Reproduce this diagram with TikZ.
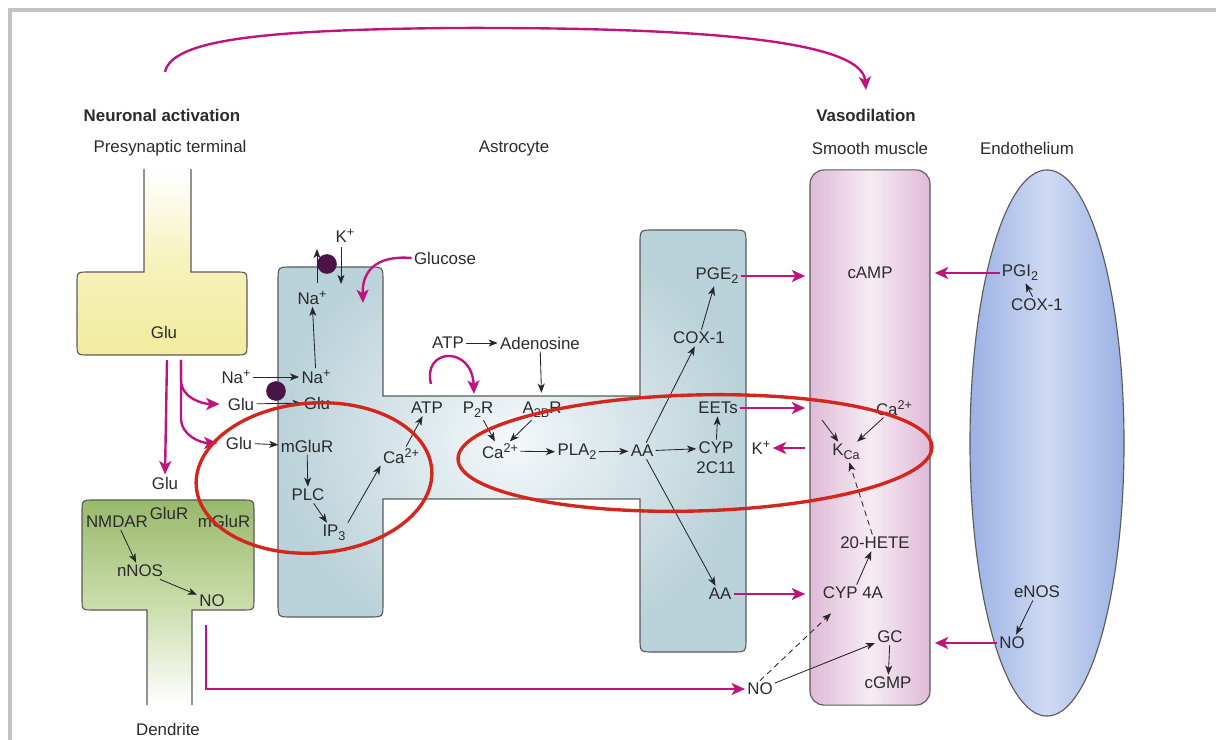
\documentclass[tikz,border=0pt]{standalone}
\usepackage{fontspec}
\setmainfont{Liberation Sans}
\usetikzlibrary{arrows.meta,shapes.geometric,calc}
\definecolor{mag}{HTML}{C0147C}
\definecolor{redc}{HTML}{D3261C}
\definecolor{outl}{HTML}{5A5A5A}
\definecolor{txt}{HTML}{2B2B2B}
\definecolor{pumpc}{HTML}{4A1448}
\definecolor{framec}{HTML}{C3C3C3}
\definecolor{astroout}{HTML}{BAD2D9}
\definecolor{astroin}{HTML}{F4F8FA}
\definecolor{yel}{HTML}{F1EC9E}
\definecolor{yelL}{HTML}{F6F2BC}
\definecolor{grn}{HTML}{98B96C}
\definecolor{grnL}{HTML}{CADCAA}
\definecolor{pinkE}{HTML}{E0BAD7}
\definecolor{pinkM}{HTML}{F6ECF3}
\definecolor{bluE}{HTML}{9AB1E3}
\definecolor{bluM}{HTML}{CFDAF3}
\newcommand\upx[1]{\raisebox{0.6ex}{\fontsize{9}{9}\selectfont #1}}
\newcommand\dnx[1]{\raisebox{-0.45ex}{\fontsize{9}{9}\selectfont #1}}
\begin{document}
\begin{tikzpicture}[x=0.025cm, y=-0.025cm, font=\fontsize{12}{14}\selectfont,
  every node/.style={text=txt, inner sep=1.5pt},
  arr/.style={-{Stealth[length=6.5pt,width=5pt,inset=1.8pt]}, line width=0.6pt, draw=black!85},
  darr/.style={arr, dash pattern=on 4pt off 3pt},
  marr/.style={-{Stealth[length=9.5pt,width=8.5pt,inset=2.5pt]}, line width=1.7pt, draw=mag},
  memb/.style={draw=outl, line width=0.8pt},
  redring/.style={draw=redc, line width=2.4pt},
  pump/.style={circle, fill=pumpc, minimum size=14pt, inner sep=0pt}]
\useasboundingbox (0,0) rectangle (1216,740);
% frame
\fill[framec] (8,8) rectangle (1216,12);
\fill[framec] (8,8) rectangle (12,740);

% titles
\node (nact) at (162,115) {\bfseries Neuronal activation};
\node (pre) at (170,148) {Presynaptic terminal};
\node (astro) at (514,148) {Astrocyte};
\node (vaso) at (866,115) {\bfseries Vasodilation};
\node (smooth) at (870,148) {Smooth muscle};
\node (endoL) at (1027,148) {Endothelium};
\node (dend) at (168,729) {Dendrite};

% top arrow
\coordinate (topA) at (165,72);
\coordinate (topB) at (866,90);
\draw[marr] (topA) .. controls (172,40) and (260,30) .. (450,28) .. controls (700,27) and (862,40) .. (topB);

% presynaptic terminal
\shadedraw[memb, top color=white, bottom color=yel, middle color=yelL]
  (144,169) -- (144,272) -- (89,272) .. controls (77,272) .. (77,284) -- (77,343)
  .. controls (77,355) .. (89,355) -- (235,355) .. controls (247,355) .. (247,343)
  -- (247,284) .. controls (247,272) .. (235,272) -- (191,272) -- (191,169);

% dendrite
\shadedraw[memb, top color=grn, bottom color=white, middle color=grnL]
  (147,705) -- (147,610) -- (94,610) .. controls (82,610) .. (82,598) -- (82,512)
  .. controls (82,500) .. (94,500) -- (242,500) .. controls (254,500) .. (254,512)
  -- (254,598) .. controls (254,610) .. (242,610) -- (192,610) -- (192,705);

% astrocyte
\shadedraw[memb, inner color=astroin, outer color=astroout]
  (278,281) .. controls (278,267) .. (292,267) -- (369,267) .. controls (383,267) .. (383,281)
  -- (383,396) -- (640,396) -- (640,244) .. controls (640,230) .. (654,230) -- (732,230)
  .. controls (746,230) .. (746,244) -- (746,638) .. controls (746,652) .. (732,652)
  -- (654,652) .. controls (640,652) .. (640,638) -- (640,499) -- (383,499) -- (383,603)
  .. controls (383,617) .. (369,617) -- (292,617) .. controls (278,617) .. (278,603) -- cycle;

% smooth muscle and endothelium
\node[memb, rectangle, rounded corners=10pt, minimum width=3cm, minimum height=13.375cm,
  shade, left color=pinkE, right color=pinkE, middle color=pinkM, inner sep=0pt] (sm) at (870,437.5) {};
\node[memb, ellipse, minimum width=3.85cm, minimum height=13.65cm,
  shade, left color=bluE, right color=bluE, middle color=bluM, inner sep=0pt] (endo) at (1047,443) {};

% pumps
\node[pump] (pump1) at (327,264) {};
\node[pump] (pump2) at (276,391) {};

% presynaptic / dendrite labels
\node (pglu) at (164,332) {Glu};
\node (gluD) at (165,483) {Glu};
\node (nmdar) at (117,522) {NMDAR};
\node (glur) at (169,513) {GluR};
\node (mglur2) at (224,521) {mGluR};
\node (nnos) at (140,571) {nNOS};
\node (no1) at (212,601) {NO};

% astrocyte labels
\node (kplus) at (345,236) {K\upx{+}};
\node (gluc) at (445,258) {Glucose};
\node (naTop) at (312,298) {Na\upx{+}};
\node (naOut) at (236,377) {Na\upx{+}};
\node (naIn) at (316,377) {Na\upx{+}};
\node (glu2) at (241,404) {Glu};
\node (gluIn) at (317,403) {Glu};
\node (glu3) at (239,443) {Glu};
\node (mglur) at (307,446) {mGluR};
\node (plc) at (308,495) {PLC};
\node (ip3) at (334,533) {IP\dnx{3}};
\node (ca1) at (401,456) {Ca\upx{2+}};
\node (atp1) at (427,408) {ATP};
\node (atpout) at (448,343) {ATP};
\node (adeno) at (540,343) {Adenosine};
\node (p2r) at (478,410) {P\dnx{2}R};
\node (a2br) at (542,410) {A\dnx{2B}R};
\node (ca2) at (500,451) {Ca\upx{2+}};
\node (pla2) at (577,452) {PLA\dnx{2}};
\node (aa1) at (642,451) {AA};
\node (cyp) at (716,448) {CYP};
\node (c2c11) at (716,468) {2C11};
\node (eets) at (718,408) {EETs};
\node (cox1) at (699,338) {COX-1};
\node (pge2) at (717,276) {PGE\dnx{2}};
\node (aa2) at (720,594) {AA};

% smooth muscle labels
\node (camp) at (870,273) {cAMP};
\node (kplus2) at (761,448) {K\upx{+}};
\node (kca) at (846,452) {K\dnx{Ca}};
\node (ca3) at (894,408) {Ca\upx{2+}};
\node (hete) at (875,543) {20-HETE};
\node (cyp4a) at (853,593) {CYP 4A};
\node (gc) at (890,637) {GC};
\node (cgmp) at (888,683) {cGMP};
\node (no2) at (760,689) {NO};

% endothelium labels
\node (pgi2) at (1020,273) {PGI\dnx{2}};
\node (cox2) at (1037,305) {COX-1};
\node (enos) at (1037,592) {eNOS};
\node (no3) at (1012,643) {NO};

% black arrows
\coordinate (kup0) at (317,283);
\coordinate (kup1) at (317,249);
\coordinate (kdn0) at (341,247);
\coordinate (kdn1) at (341,284);
\draw[arr] (kup0) -- (kup1);
\draw[arr] (kdn0) -- (kdn1);
\draw[arr] (naOut) -- (naIn);
\draw[arr] (glu2) -- (gluIn);
\draw[arr] (naIn) -- (naTop);
\draw[arr] (glu3) -- (mglur);
\draw[arr] (mglur) -- (plc);
\draw[arr] (plc) -- (ip3);
\draw[arr] (ip3.north east) -- (ca1.south west);
\draw[arr] (ca1) -- (atp1);
\draw[arr] (atpout) -- (adeno);
\draw[arr, shorten >=5pt] (adeno) -- (a2br);
\draw[arr] (p2r) -- (ca2);
\draw[arr] (a2br) -- (ca2);
\draw[arr] (ca2) -- (pla2);
\draw[arr] (pla2) -- (aa1);
\draw[arr] (aa1) -- (cyp);
\draw[arr] (cyp) -- (eets);
\draw[arr] (aa1) -- (cox1);
\draw[arr] (cox1) -- (pge2);
\draw[arr] (aa1) -- (aa2);
\coordinate (eetsin) at (822,420);
\draw[arr] (eetsin) -- (kca);
\draw[arr] (ca3) -- (kca);
\draw[darr] (hete) -- (kca);
\draw[arr] (cyp4a) -- (hete);
\draw[arr] (gc) -- (cgmp);
\draw[arr] (no2) -- (gc);
\draw[darr] (no2.north) -- ($(cyp4a.south)+(-22,12)$);
\draw[arr] (cox2) -- (pgi2);
\draw[arr] (enos) -- (no3);
\draw[arr] (nmdar) -- (nnos);
\draw[arr] (nnos) -- (no1);

% magenta arrows
\coordinate (g1) at (167,360);
\coordinate (g2) at (181,360);
\draw[marr] (g1) -- (gluD.north);
\draw[marr] (g2) -- (181,380) to[out=-90,in=180] ($(glu2.west)+(-6,0)$);
\draw[marr] (g2) -- (181,418) to[out=-90,in=180] ($(glu3.west)+(-6,0)$);
\draw[marr] (gluc.west) .. controls (375,255) and (362,272) .. (363,303);
\coordinate (atparc) at (431,384);
\draw[marr] (atparc) .. controls (422,348) and (472,345) .. ($(p2r.north)+(-4,-6)$);
\draw[marr, shorten >=3pt] (pge2.east) -- (pge2.east -| sm.west);
\draw[marr, shorten >=3pt] (eets.east) -- (eets.east -| sm.west);
\draw[marr, shorten <=3pt] (kplus2.east -| sm.west) -- (kplus2.east);
\draw[marr, shorten >=3pt] (aa2.east) -- (aa2.east -| sm.west);
\draw[marr, shorten >=3pt] (pgi2.west) -- (pgi2.west -| sm.east);
\draw[marr, shorten >=3pt] (no3.west) -- (no3.west -| sm.east);
\coordinate (dno) at (206,625);
\draw[marr] (dno) |- (no2.west);

% red ellipses
\draw[redring, rotate around={4:(314,478)}] (314,478) ellipse [x radius=2.95cm, y radius=1.875cm];
\draw[redring, rotate around={1.5:(695,453)}] (695,453) ellipse [x radius=5.925cm, y radius=1.45cm];
\end{tikzpicture}
\end{document}
